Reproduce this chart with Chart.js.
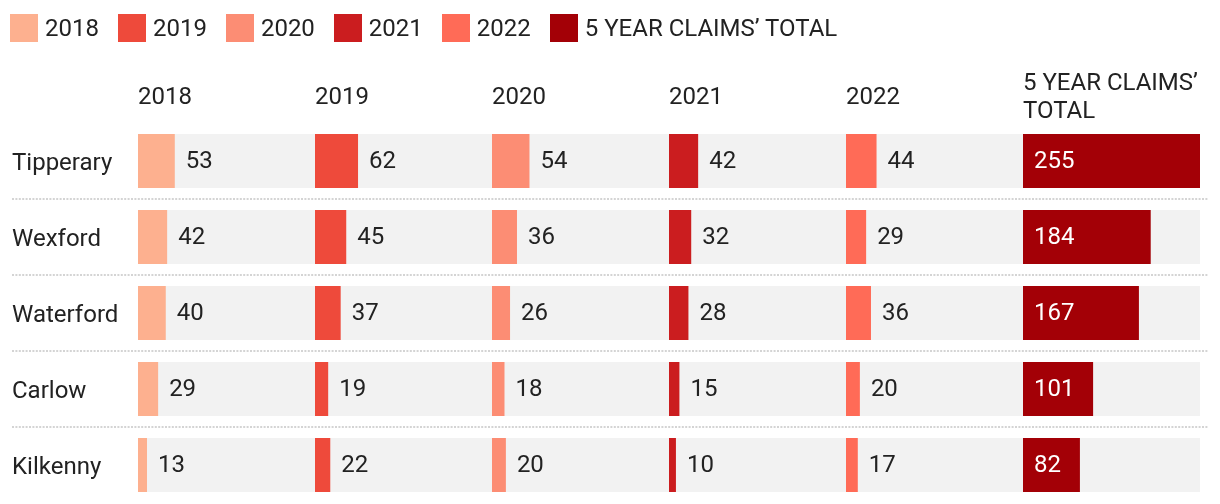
<!DOCTYPE html>
<html>
<head>
<meta charset="utf-8">
<script src="https://cdn.jsdelivr.net/npm/chart.js@4.4.1/dist/chart.umd.min.js"></script>
<style>
    body { margin: 0; background: #fff; font-family: Roboto, sans-serif; }
    #contenedor { position: relative; width: 1220px; height: 504px; }
    #leyenda { position: absolute; left: 10px; top: 14px; display: flex; }
    .item { display: flex; align-items: center; margin-right: 19px; font-size: 24px; color: #222; line-height: 28px; }
    .caja { width: 28px; height: 28px; margin-right: 7px; }
</style>
</head>
<body>
<div id="contenedor">
    <canvas id="myChart" width="1220" height="504"></canvas>
    <div id="leyenda"></div>
</div>
<script>
// condados (filas) y columnas
const condados = ["Tipperary", "Wexford", "Waterford", "Carlow", "Kilkenny"]
const columnas = ["2018", "2019", "2020", "2021", "2022", "5 YEAR CLAIMS’ TOTAL"]
const titulos = [["2018"], ["2019"], ["2020"], ["2021"], ["2022"], ["5 YEAR CLAIMS’", "TOTAL"]]

// valores por año
const v2018 = [53, 42, 40, 29, 13]
const v2019 = [62, 45, 37, 19, 22]
const v2020 = [54, 36, 26, 18, 20]
const v2021 = [42, 32, 28, 15, 10]
const v2022 = [44, 29, 36, 20, 17]
const total = [255, 184, 167, 101, 82]

const colores = ["#fdb08f", "#ee4a3b", "#fc8d74", "#cb1d1f", "#ff6b57", "#a30006"]
const series = [v2018, v2019, v2020, v2021, v2022, total]

const fuente = "Roboto"
const colorTexto = "#222"
const barPct = 54 / 76

// leyenda en html
const leyenda = document.getElementById("leyenda")
columnas.forEach((col, k) => {
    leyenda.innerHTML += `<div class="item"><div class="caja" style="background:${colores[k]}"></div>${col}</div>`
})

// fondo gris de cada fila, separadores punteados y etiquetas de valores
const fondoFilas = {
    id: "fondoFilas",
    beforeDatasetsDraw(chart) {
        const { ctx, chartArea, scales: { y } } = chart
        const paso = y.getPixelForValue(1) - y.getPixelForValue(0)
        const alto = paso * barPct
        ctx.save()
        ctx.fillStyle = "#f2f2f2"
        condados.forEach((c, i) => {
            const yc = y.getPixelForValue(i)
            ctx.fillRect(chartArea.left, yc - alto / 2, chartArea.right - chartArea.left, alto)
        })
        ctx.strokeStyle = "#d4d4d4"
        ctx.lineWidth = 2
        ctx.setLineDash([2, 1.4])
        for (let i = 0; i < condados.length - 1; i++) {
            const yy = Math.round((y.getPixelForValue(i) + y.getPixelForValue(i + 1)) / 2)
            ctx.beginPath()
            ctx.moveTo(y.left, yy)
            ctx.lineTo(chart.width - 12, yy)
            ctx.stroke()
        }
        ctx.restore()
    },
    afterDatasetsDraw(chart) {
        const { ctx } = chart
        ctx.save()
        ctx.font = "24px " + fuente
        ctx.textBaseline = "middle"
        ctx.textAlign = "left"
        chart.data.datasets.forEach((ds, d) => {
            const meta = chart.getDatasetMeta(d)
            meta.data.forEach((bar, i) => {
                if (d === series.length - 1) {
                    ctx.fillStyle = "#fff"
                    ctx.fillText(ds.data[i], bar.base + 11, bar.y + 1)
                } else {
                    ctx.fillStyle = colorTexto
                    ctx.fillText(ds.data[i], bar.x + 11, bar.y + 1)
                }
            })
        })
        ctx.restore()
    }
}

function cargarDatos() {
    const grafica = document.getElementById("myChart").getContext("2d")
    const maximo = Math.max(...total)

    const escalas = {}
    columnas.forEach((col, k) => {
        escalas["x" + k] = {
            type: "linear",
            position: "top",
            stack: "columnas",
            stackWeight: 1,
            weight: columnas.length - k,
            min: 0,
            max: maximo,
            ticks: { display: false },
            grid: { display: false },
            border: { display: false },
            title: {
                display: true,
                text: titulos[k],
                align: "start",
                color: colorTexto,
                font: { family: fuente, size: 24, lineHeight: 28 / 24 },
                padding: { top: titulos[k].length > 1 ? 70 : 84, bottom: 0 }
            },
            afterFit: s => { s.height = 123 }
        }
    })
    escalas.y = {
        type: "category",
        position: "left",
        grid: { display: false },
        border: { display: false },
        ticks: {
            crossAlign: "far",
            color: colorTexto,
            font: { family: fuente, size: 24, lineHeight: "6px" },
            // linea vacia para bajar un poco el nombre
            callback: function (v) { return ["", this.getLabelForValue(v)] }
        },
        afterFit: s => {
            s.width = 126
            s.paddingTop = 0
            s.paddingBottom = 0
        }
    }

    const myChart = new Chart(grafica, {
        type: "bar",
        data: {
            labels: condados,
            datasets: series.map((vals, k) => ({
                label: columnas[k],
                data: vals,
                xAxisID: "x" + k,
                yAxisID: "y",
                backgroundColor: colores[k],
                borderWidth: 0,
                grouped: false,
                barPercentage: barPct,
                categoryPercentage: 1
            }))
        },
        options: {
            indexAxis: "y",
            responsive: false,
            animation: false,
            layout: { padding: { left: 12, right: 20, top: 0, bottom: 1 } },
            plugins: {
                legend: { display: false },
                tooltip: { enabled: false }
            },
            scales: escalas
        },
        plugins: [fondoFilas]
    })
}

cargarDatos()
</script>
</body>
</html>
